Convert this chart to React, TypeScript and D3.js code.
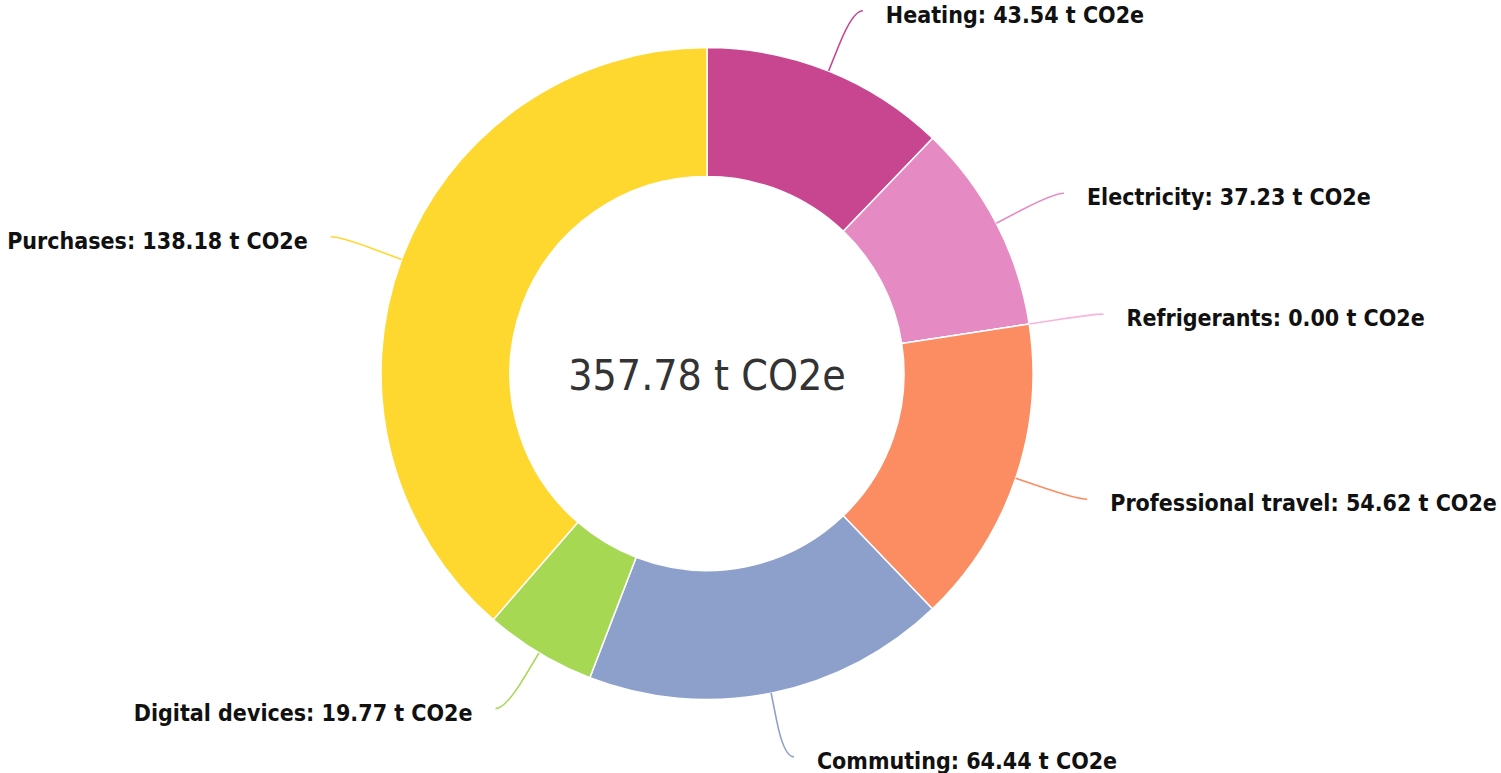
import React from "react";
import * as d3 from "d3";

const categories = [
  "Heating",
  "Electricity",
  "Refrigerants",
  "Professional travel",
  "Commuting",
  "Digital devices",
  "Purchases",
];
const values = [43.54, 37.23, 0.0, 54.62, 64.44, 19.77, 138.18];
const colors = ["#c8468f", "#e68ac3", "#f8b4dc", "#fc8d62", "#8da0cb", "#a6d854", "#fed82e"];
const unit = "t CO2e";

const W = 1501;
const H = 773;
const cx = 707;
const cy = 373.5;
const R = 326;
const r = 197;
const labelR = R + 65;
const FONT = "'DejaVu Sans Condensed', 'DejaVu Sans', Verdana, sans-serif";

export default function App() {
  const data = categories.map((c, i) => ({ name: c, value: values[i], color: colors[i] }));
  const total = d3.sum(values);
  const pie = d3.pie<any>().value((d) => d.value).sort(null);
  const arcs = pie(data);
  const arcGen = d3.arc<any>().innerRadius(r).outerRadius(R);

  const polar = (rad: number, a: number) => [rad * Math.sin(a), -rad * Math.cos(a)];

  return (
    <svg width={W} height={H} style={{ position: "absolute", left: 0, top: 0 }}>
      <g transform={`translate(${cx},${cy})`}>
        {arcs.map((a, i) => (
          <path key={i} d={arcGen(a) || ""} fill={a.data.color} stroke="#fff" strokeWidth={1.5} />
        ))}
        {arcs.map((a, i) => {
          const mid = (a.startAngle + a.endAngle) / 2;
          const side = Math.sin(mid) >= 0 ? 1 : -1;
          const [x0, y0] = polar(R, mid);
          const [x1, y1] = polar(R + 28, mid);
          const [x2, y2] = polar(labelR, mid);
          const ex = x2 + side * 10;
          const ey = y2;
          const path = `M${x0},${y0} L${x1},${y1} Q${x2},${y2} ${ex},${ey}`;
          const tx = ex + side * 23;
          return (
            <g key={"l" + i}>
              <path d={path} fill="none" stroke={a.data.color} strokeWidth={1.6} />
              <text
                x={tx}
                y={ey + 4}
                dy="0.35em"
                textAnchor={side > 0 ? "start" : "end"}
                fontFamily={FONT}
                fontWeight="bold"
                fontSize={23}
                fill="#111"
              >
                {`${a.data.name}: ${d3.format(".2f")(a.data.value)} ${unit}`}
              </text>
            </g>
          );
        })}
        <text
          x={0}
          y={2}
          dy="0.35em"
          textAnchor="middle"
          fontFamily={FONT}
          fontSize={42.5}
          fill="#333"
        >
          {`${d3.format(".2f")(total)} ${unit}`}
        </text>
      </g>
    </svg>
  );
}
